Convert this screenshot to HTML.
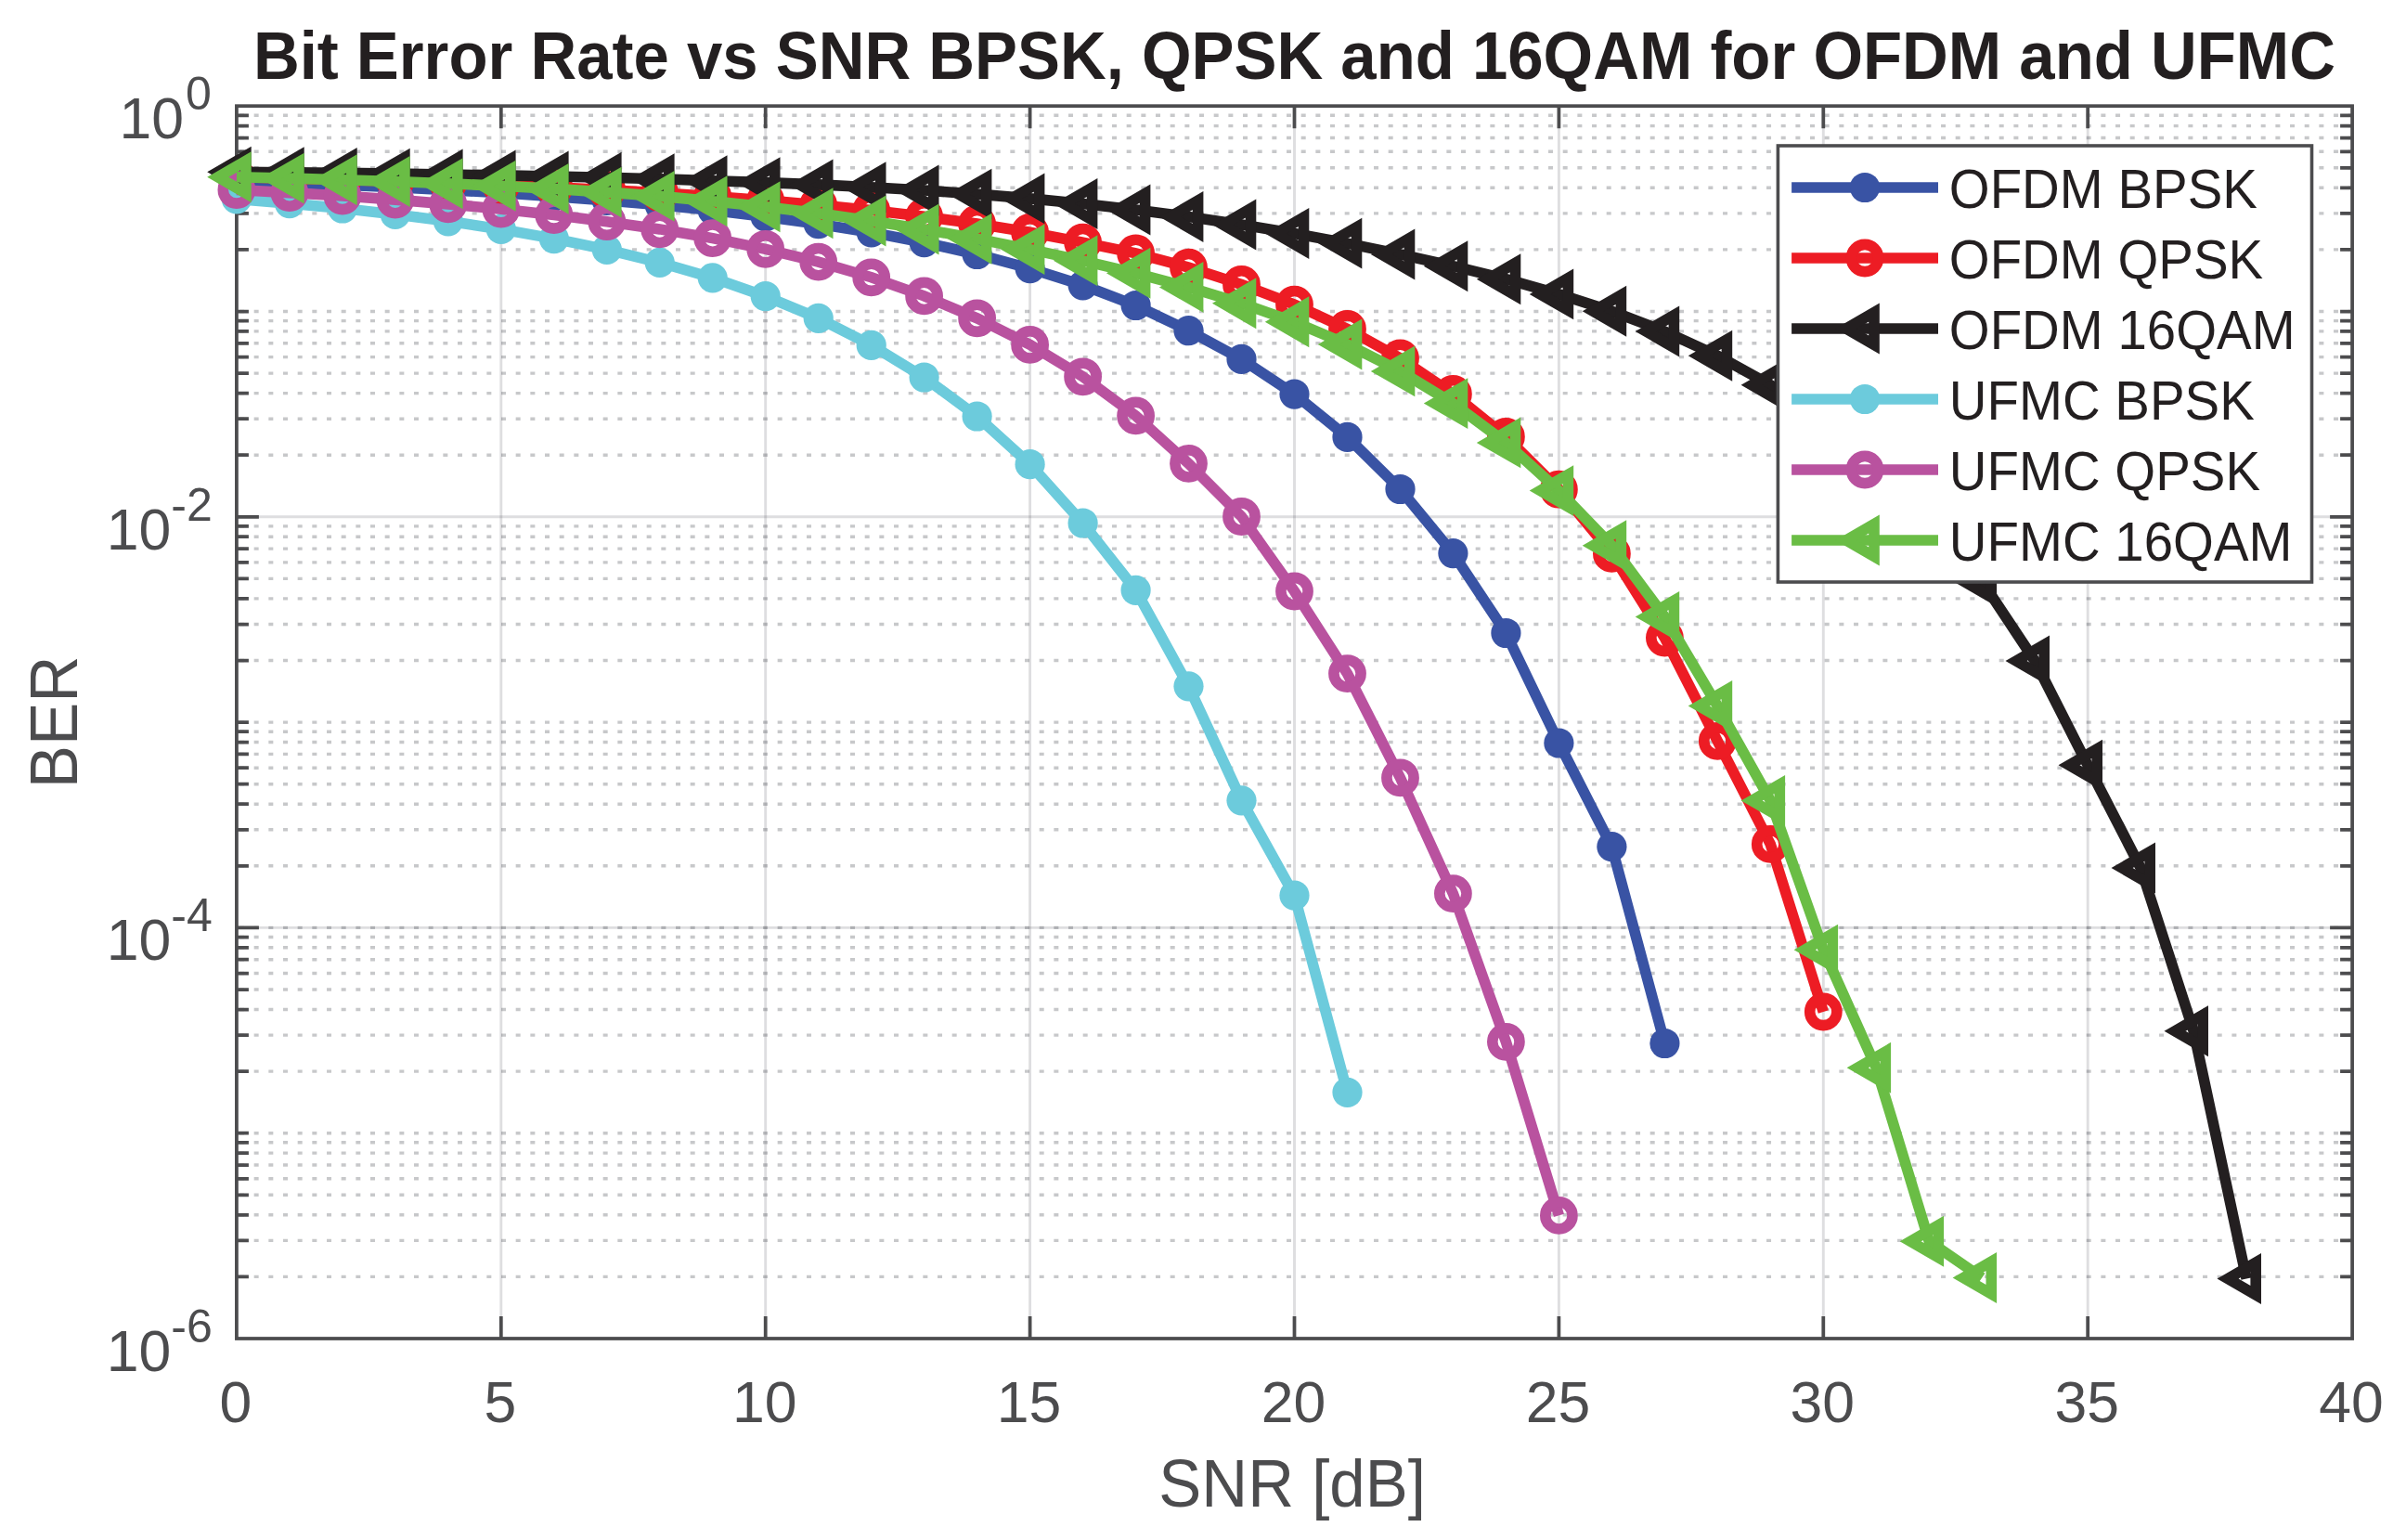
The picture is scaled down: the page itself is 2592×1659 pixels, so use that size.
<!DOCTYPE html>
<html><head><meta charset="utf-8"><title>BER vs SNR</title>
<style>html,body{margin:0;padding:0;background:#fff}svg{display:block}text{font-family:"Liberation Sans",sans-serif}</style></head>
<body>
<svg width="2592" height="1659" viewBox="0 0 2592 1659">
<rect width="2592" height="1659" fill="#fff"/>
<g stroke="#20242c" stroke-opacity="0.15" stroke-width="2.9" fill="none">
<line x1="539.8" y1="114.2" x2="539.8" y2="1442.0"/>
<line x1="824.7" y1="114.2" x2="824.7" y2="1442.0"/>
<line x1="1109.6" y1="114.2" x2="1109.6" y2="1442.0"/>
<line x1="1394.5" y1="114.2" x2="1394.5" y2="1442.0"/>
<line x1="1679.4" y1="114.2" x2="1679.4" y2="1442.0"/>
<line x1="1964.3" y1="114.2" x2="1964.3" y2="1442.0"/>
<line x1="2249.2" y1="114.2" x2="2249.2" y2="1442.0"/>
<line x1="254.9" y1="556.8" x2="2534.1" y2="556.8"/>
<line x1="254.9" y1="999.4" x2="2534.1" y2="999.4"/>
</g>
<g stroke="#20242c" stroke-opacity="0.25" stroke-width="3.4" stroke-dasharray="5 10.667" fill="none">
<line x1="258.0" y1="124.3" x2="2534.1" y2="124.3"/>
<line x1="258.0" y1="135.6" x2="2534.1" y2="135.6"/>
<line x1="258.0" y1="148.5" x2="2534.1" y2="148.5"/>
<line x1="258.0" y1="163.3" x2="2534.1" y2="163.3"/>
<line x1="258.0" y1="180.8" x2="2534.1" y2="180.8"/>
<line x1="258.0" y1="202.3" x2="2534.1" y2="202.3"/>
<line x1="258.0" y1="229.9" x2="2534.1" y2="229.9"/>
<line x1="258.0" y1="268.9" x2="2534.1" y2="268.9"/>
<line x1="258.0" y1="335.5" x2="2534.1" y2="335.5"/>
<line x1="258.0" y1="345.6" x2="2534.1" y2="345.6"/>
<line x1="258.0" y1="356.9" x2="2534.1" y2="356.9"/>
<line x1="258.0" y1="369.8" x2="2534.1" y2="369.8"/>
<line x1="258.0" y1="384.6" x2="2534.1" y2="384.6"/>
<line x1="258.0" y1="402.1" x2="2534.1" y2="402.1"/>
<line x1="258.0" y1="423.6" x2="2534.1" y2="423.6"/>
<line x1="258.0" y1="451.2" x2="2534.1" y2="451.2"/>
<line x1="258.0" y1="490.2" x2="2534.1" y2="490.2"/>
<line x1="258.0" y1="566.9" x2="2534.1" y2="566.9"/>
<line x1="258.0" y1="578.2" x2="2534.1" y2="578.2"/>
<line x1="258.0" y1="591.1" x2="2534.1" y2="591.1"/>
<line x1="258.0" y1="605.9" x2="2534.1" y2="605.9"/>
<line x1="258.0" y1="623.4" x2="2534.1" y2="623.4"/>
<line x1="258.0" y1="644.9" x2="2534.1" y2="644.9"/>
<line x1="258.0" y1="672.5" x2="2534.1" y2="672.5"/>
<line x1="258.0" y1="711.5" x2="2534.1" y2="711.5"/>
<line x1="258.0" y1="778.1" x2="2534.1" y2="778.1"/>
<line x1="258.0" y1="788.2" x2="2534.1" y2="788.2"/>
<line x1="258.0" y1="799.5" x2="2534.1" y2="799.5"/>
<line x1="258.0" y1="812.4" x2="2534.1" y2="812.4"/>
<line x1="258.0" y1="827.2" x2="2534.1" y2="827.2"/>
<line x1="258.0" y1="844.7" x2="2534.1" y2="844.7"/>
<line x1="258.0" y1="866.2" x2="2534.1" y2="866.2"/>
<line x1="258.0" y1="893.8" x2="2534.1" y2="893.8"/>
<line x1="258.0" y1="932.8" x2="2534.1" y2="932.8"/>
<line x1="258.0" y1="1009.5" x2="2534.1" y2="1009.5"/>
<line x1="258.0" y1="1020.8" x2="2534.1" y2="1020.8"/>
<line x1="258.0" y1="1033.7" x2="2534.1" y2="1033.7"/>
<line x1="258.0" y1="1048.5" x2="2534.1" y2="1048.5"/>
<line x1="258.0" y1="1066.0" x2="2534.1" y2="1066.0"/>
<line x1="258.0" y1="1087.5" x2="2534.1" y2="1087.5"/>
<line x1="258.0" y1="1115.1" x2="2534.1" y2="1115.1"/>
<line x1="258.0" y1="1154.1" x2="2534.1" y2="1154.1"/>
<line x1="258.0" y1="1220.7" x2="2534.1" y2="1220.7"/>
<line x1="258.0" y1="1230.8" x2="2534.1" y2="1230.8"/>
<line x1="258.0" y1="1242.1" x2="2534.1" y2="1242.1"/>
<line x1="258.0" y1="1255.0" x2="2534.1" y2="1255.0"/>
<line x1="258.0" y1="1269.8" x2="2534.1" y2="1269.8"/>
<line x1="258.0" y1="1287.3" x2="2534.1" y2="1287.3"/>
<line x1="258.0" y1="1308.8" x2="2534.1" y2="1308.8"/>
<line x1="258.0" y1="1336.4" x2="2534.1" y2="1336.4"/>
<line x1="258.0" y1="1375.4" x2="2534.1" y2="1375.4"/>
<line x1="258.0" y1="999.4" x2="2534.1" y2="999.4"/>
</g>
<g stroke="#4c4c4e" stroke-width="3.75" fill="none">
<rect x="254.9" y="114.2" width="2279.2" height="1327.8"/>
<path d="M539.8 1442.0v-24.0 M539.8 114.2v24.0"/>
<path d="M824.7 1442.0v-24.0 M824.7 114.2v24.0"/>
<path d="M1109.6 1442.0v-24.0 M1109.6 114.2v24.0"/>
<path d="M1394.5 1442.0v-24.0 M1394.5 114.2v24.0"/>
<path d="M1679.4 1442.0v-24.0 M1679.4 114.2v24.0"/>
<path d="M1964.3 1442.0v-24.0 M1964.3 114.2v24.0"/>
<path d="M2249.2 1442.0v-24.0 M2249.2 114.2v24.0"/>
<path d="M254.9 556.8h24.0 M2534.1 556.8h-24.0"/>
<path d="M254.9 999.4h24.0 M2534.1 999.4h-24.0"/>
<path d="M254.9 124.3h13.0 M2534.1 124.3h-13.0"/>
<path d="M254.9 135.6h13.0 M2534.1 135.6h-13.0"/>
<path d="M254.9 148.5h13.0 M2534.1 148.5h-13.0"/>
<path d="M254.9 163.3h13.0 M2534.1 163.3h-13.0"/>
<path d="M254.9 180.8h13.0 M2534.1 180.8h-13.0"/>
<path d="M254.9 202.3h13.0 M2534.1 202.3h-13.0"/>
<path d="M254.9 229.9h13.0 M2534.1 229.9h-13.0"/>
<path d="M254.9 268.9h13.0 M2534.1 268.9h-13.0"/>
<path d="M254.9 335.5h13.0 M2534.1 335.5h-13.0"/>
<path d="M254.9 345.6h13.0 M2534.1 345.6h-13.0"/>
<path d="M254.9 356.9h13.0 M2534.1 356.9h-13.0"/>
<path d="M254.9 369.8h13.0 M2534.1 369.8h-13.0"/>
<path d="M254.9 384.6h13.0 M2534.1 384.6h-13.0"/>
<path d="M254.9 402.1h13.0 M2534.1 402.1h-13.0"/>
<path d="M254.9 423.6h13.0 M2534.1 423.6h-13.0"/>
<path d="M254.9 451.2h13.0 M2534.1 451.2h-13.0"/>
<path d="M254.9 490.2h13.0 M2534.1 490.2h-13.0"/>
<path d="M254.9 566.9h13.0 M2534.1 566.9h-13.0"/>
<path d="M254.9 578.2h13.0 M2534.1 578.2h-13.0"/>
<path d="M254.9 591.1h13.0 M2534.1 591.1h-13.0"/>
<path d="M254.9 605.9h13.0 M2534.1 605.9h-13.0"/>
<path d="M254.9 623.4h13.0 M2534.1 623.4h-13.0"/>
<path d="M254.9 644.9h13.0 M2534.1 644.9h-13.0"/>
<path d="M254.9 672.5h13.0 M2534.1 672.5h-13.0"/>
<path d="M254.9 711.5h13.0 M2534.1 711.5h-13.0"/>
<path d="M254.9 778.1h13.0 M2534.1 778.1h-13.0"/>
<path d="M254.9 788.2h13.0 M2534.1 788.2h-13.0"/>
<path d="M254.9 799.5h13.0 M2534.1 799.5h-13.0"/>
<path d="M254.9 812.4h13.0 M2534.1 812.4h-13.0"/>
<path d="M254.9 827.2h13.0 M2534.1 827.2h-13.0"/>
<path d="M254.9 844.7h13.0 M2534.1 844.7h-13.0"/>
<path d="M254.9 866.2h13.0 M2534.1 866.2h-13.0"/>
<path d="M254.9 893.8h13.0 M2534.1 893.8h-13.0"/>
<path d="M254.9 932.8h13.0 M2534.1 932.8h-13.0"/>
<path d="M254.9 1009.5h13.0 M2534.1 1009.5h-13.0"/>
<path d="M254.9 1020.8h13.0 M2534.1 1020.8h-13.0"/>
<path d="M254.9 1033.7h13.0 M2534.1 1033.7h-13.0"/>
<path d="M254.9 1048.5h13.0 M2534.1 1048.5h-13.0"/>
<path d="M254.9 1066.0h13.0 M2534.1 1066.0h-13.0"/>
<path d="M254.9 1087.5h13.0 M2534.1 1087.5h-13.0"/>
<path d="M254.9 1115.1h13.0 M2534.1 1115.1h-13.0"/>
<path d="M254.9 1154.1h13.0 M2534.1 1154.1h-13.0"/>
<path d="M254.9 1220.7h13.0 M2534.1 1220.7h-13.0"/>
<path d="M254.9 1230.8h13.0 M2534.1 1230.8h-13.0"/>
<path d="M254.9 1242.1h13.0 M2534.1 1242.1h-13.0"/>
<path d="M254.9 1255.0h13.0 M2534.1 1255.0h-13.0"/>
<path d="M254.9 1269.8h13.0 M2534.1 1269.8h-13.0"/>
<path d="M254.9 1287.3h13.0 M2534.1 1287.3h-13.0"/>
<path d="M254.9 1308.8h13.0 M2534.1 1308.8h-13.0"/>
<path d="M254.9 1336.4h13.0 M2534.1 1336.4h-13.0"/>
<path d="M254.9 1375.4h13.0 M2534.1 1375.4h-13.0"/>
</g>
<g>
<polyline points="254.9,195.2 311.9,197.1 368.9,199.3 425.8,201.8 482.8,204.6 539.8,207.8 596.8,211.6 653.8,215.9 710.7,220.8 767.7,226.6 824.7,233.4 881.7,241.2 938.7,250.4 995.6,261.2 1052.6,274.0 1109.6,289.2 1166.6,307.3 1223.6,329.0 1280.5,356.2 1337.5,386.9 1394.5,424.6 1451.5,470.9 1508.5,527.0 1565.4,596.1 1622.4,682.0 1679.4,800.5 1736.4,912.2 1793.4,1124.0" fill="none" stroke="#3953a4" stroke-width="11.6" stroke-linejoin="miter" stroke-linecap="butt"/>
<circle cx="254.9" cy="195.2" r="16.1" fill="#3953a4"/>
<circle cx="311.9" cy="197.1" r="16.1" fill="#3953a4"/>
<circle cx="368.9" cy="199.3" r="16.1" fill="#3953a4"/>
<circle cx="425.8" cy="201.8" r="16.1" fill="#3953a4"/>
<circle cx="482.8" cy="204.6" r="16.1" fill="#3953a4"/>
<circle cx="539.8" cy="207.8" r="16.1" fill="#3953a4"/>
<circle cx="596.8" cy="211.6" r="16.1" fill="#3953a4"/>
<circle cx="653.8" cy="215.9" r="16.1" fill="#3953a4"/>
<circle cx="710.7" cy="220.8" r="16.1" fill="#3953a4"/>
<circle cx="767.7" cy="226.6" r="16.1" fill="#3953a4"/>
<circle cx="824.7" cy="233.4" r="16.1" fill="#3953a4"/>
<circle cx="881.7" cy="241.2" r="16.1" fill="#3953a4"/>
<circle cx="938.7" cy="250.4" r="16.1" fill="#3953a4"/>
<circle cx="995.6" cy="261.2" r="16.1" fill="#3953a4"/>
<circle cx="1052.6" cy="274.0" r="16.1" fill="#3953a4"/>
<circle cx="1109.6" cy="289.2" r="16.1" fill="#3953a4"/>
<circle cx="1166.6" cy="307.3" r="16.1" fill="#3953a4"/>
<circle cx="1223.6" cy="329.0" r="16.1" fill="#3953a4"/>
<circle cx="1280.5" cy="356.2" r="16.1" fill="#3953a4"/>
<circle cx="1337.5" cy="386.9" r="16.1" fill="#3953a4"/>
<circle cx="1394.5" cy="424.6" r="16.1" fill="#3953a4"/>
<circle cx="1451.5" cy="470.9" r="16.1" fill="#3953a4"/>
<circle cx="1508.5" cy="527.0" r="16.1" fill="#3953a4"/>
<circle cx="1565.4" cy="596.1" r="16.1" fill="#3953a4"/>
<circle cx="1622.4" cy="682.0" r="16.1" fill="#3953a4"/>
<circle cx="1679.4" cy="800.5" r="16.1" fill="#3953a4"/>
<circle cx="1736.4" cy="912.2" r="16.1" fill="#3953a4"/>
<circle cx="1793.4" cy="1124.0" r="16.1" fill="#3953a4"/>
</g>
<g>
<polyline points="254.9,190.8 311.9,192.1 368.9,193.6 425.8,195.2 482.8,197.1 539.8,199.3 596.8,201.7 653.8,204.6 710.7,207.8 767.7,211.5 824.7,215.8 881.7,220.8 938.7,226.6 995.6,233.3 1052.6,241.1 1109.6,250.3 1166.6,261.1 1223.6,272.8 1280.5,288.1 1337.5,306.4 1394.5,328.1 1451.5,354.5 1508.5,385.9 1565.4,424.4 1622.4,470.5 1679.4,527.2 1736.4,596.4 1793.4,687.1 1850.3,798.3 1907.3,909.4 1964.3,1090.0" fill="none" stroke="#ed1c24" stroke-width="11.6" stroke-linejoin="miter" stroke-linecap="butt"/>
<circle cx="254.9" cy="190.8" r="14.6" fill="none" stroke="#ed1c24" stroke-width="11.6"/>
<circle cx="311.9" cy="192.1" r="14.6" fill="none" stroke="#ed1c24" stroke-width="11.6"/>
<circle cx="368.9" cy="193.6" r="14.6" fill="none" stroke="#ed1c24" stroke-width="11.6"/>
<circle cx="425.8" cy="195.2" r="14.6" fill="none" stroke="#ed1c24" stroke-width="11.6"/>
<circle cx="482.8" cy="197.1" r="14.6" fill="none" stroke="#ed1c24" stroke-width="11.6"/>
<circle cx="539.8" cy="199.3" r="14.6" fill="none" stroke="#ed1c24" stroke-width="11.6"/>
<circle cx="596.8" cy="201.7" r="14.6" fill="none" stroke="#ed1c24" stroke-width="11.6"/>
<circle cx="653.8" cy="204.6" r="14.6" fill="none" stroke="#ed1c24" stroke-width="11.6"/>
<circle cx="710.7" cy="207.8" r="14.6" fill="none" stroke="#ed1c24" stroke-width="11.6"/>
<circle cx="767.7" cy="211.5" r="14.6" fill="none" stroke="#ed1c24" stroke-width="11.6"/>
<circle cx="824.7" cy="215.8" r="14.6" fill="none" stroke="#ed1c24" stroke-width="11.6"/>
<circle cx="881.7" cy="220.8" r="14.6" fill="none" stroke="#ed1c24" stroke-width="11.6"/>
<circle cx="938.7" cy="226.6" r="14.6" fill="none" stroke="#ed1c24" stroke-width="11.6"/>
<circle cx="995.6" cy="233.3" r="14.6" fill="none" stroke="#ed1c24" stroke-width="11.6"/>
<circle cx="1052.6" cy="241.1" r="14.6" fill="none" stroke="#ed1c24" stroke-width="11.6"/>
<circle cx="1109.6" cy="250.3" r="14.6" fill="none" stroke="#ed1c24" stroke-width="11.6"/>
<circle cx="1166.6" cy="261.1" r="14.6" fill="none" stroke="#ed1c24" stroke-width="11.6"/>
<circle cx="1223.6" cy="272.8" r="14.6" fill="none" stroke="#ed1c24" stroke-width="11.6"/>
<circle cx="1280.5" cy="288.1" r="14.6" fill="none" stroke="#ed1c24" stroke-width="11.6"/>
<circle cx="1337.5" cy="306.4" r="14.6" fill="none" stroke="#ed1c24" stroke-width="11.6"/>
<circle cx="1394.5" cy="328.1" r="14.6" fill="none" stroke="#ed1c24" stroke-width="11.6"/>
<circle cx="1451.5" cy="354.5" r="14.6" fill="none" stroke="#ed1c24" stroke-width="11.6"/>
<circle cx="1508.5" cy="385.9" r="14.6" fill="none" stroke="#ed1c24" stroke-width="11.6"/>
<circle cx="1565.4" cy="424.4" r="14.6" fill="none" stroke="#ed1c24" stroke-width="11.6"/>
<circle cx="1622.4" cy="470.5" r="14.6" fill="none" stroke="#ed1c24" stroke-width="11.6"/>
<circle cx="1679.4" cy="527.2" r="14.6" fill="none" stroke="#ed1c24" stroke-width="11.6"/>
<circle cx="1736.4" cy="596.4" r="14.6" fill="none" stroke="#ed1c24" stroke-width="11.6"/>
<circle cx="1793.4" cy="687.1" r="14.6" fill="none" stroke="#ed1c24" stroke-width="11.6"/>
<circle cx="1850.3" cy="798.3" r="14.6" fill="none" stroke="#ed1c24" stroke-width="11.6"/>
<circle cx="1907.3" cy="909.4" r="14.6" fill="none" stroke="#ed1c24" stroke-width="11.6"/>
<circle cx="1964.3" cy="1090.0" r="14.6" fill="none" stroke="#ed1c24" stroke-width="11.6"/>
</g>
<g>
<polyline points="254.9,185.2 311.9,185.8 368.9,186.4 425.8,187.1 482.8,188.0 539.8,188.9 596.8,190.0 653.8,191.3 710.7,192.8 767.7,194.7 824.7,196.6 881.7,198.9 938.7,201.7 995.6,205.0 1052.6,209.1 1109.6,213.9 1166.6,219.5 1223.6,226.0 1280.5,233.5 1337.5,242.0 1394.5,251.5 1451.5,262.1 1508.5,274.0 1565.4,286.7 1622.4,300.7 1679.4,316.9 1736.4,335.3 1793.4,357.0 1850.3,383.2 1907.3,414.8 1964.3,452.9 2021.3,499.5 2078.3,556.3 2135.2,626.1 2192.2,712.0 2249.2,824.3 2306.2,935.0 2363.2,1110.8 2420.1,1377.5" fill="none" stroke="#231f20" stroke-width="11.6" stroke-linejoin="miter" stroke-linecap="butt"/>
<path d="M234.8 185.2L264.9 167.8L264.9 202.6Z" fill="none" stroke="#231f20" stroke-width="11.6" stroke-linejoin="miter" stroke-miterlimit="10"/>
<path d="M291.8 185.8L321.9 168.4L321.9 203.2Z" fill="none" stroke="#231f20" stroke-width="11.6" stroke-linejoin="miter" stroke-miterlimit="10"/>
<path d="M348.8 186.4L378.9 169.0L378.9 203.8Z" fill="none" stroke="#231f20" stroke-width="11.6" stroke-linejoin="miter" stroke-miterlimit="10"/>
<path d="M405.8 187.1L435.9 169.7L435.9 204.5Z" fill="none" stroke="#231f20" stroke-width="11.6" stroke-linejoin="miter" stroke-miterlimit="10"/>
<path d="M462.8 188.0L492.8 170.6L492.8 205.4Z" fill="none" stroke="#231f20" stroke-width="11.6" stroke-linejoin="miter" stroke-miterlimit="10"/>
<path d="M519.7 188.9L549.8 171.5L549.8 206.3Z" fill="none" stroke="#231f20" stroke-width="11.6" stroke-linejoin="miter" stroke-miterlimit="10"/>
<path d="M576.7 190.0L606.8 172.6L606.8 207.4Z" fill="none" stroke="#231f20" stroke-width="11.6" stroke-linejoin="miter" stroke-miterlimit="10"/>
<path d="M633.7 191.3L663.8 173.9L663.8 208.7Z" fill="none" stroke="#231f20" stroke-width="11.6" stroke-linejoin="miter" stroke-miterlimit="10"/>
<path d="M690.7 192.8L720.8 175.4L720.8 210.2Z" fill="none" stroke="#231f20" stroke-width="11.6" stroke-linejoin="miter" stroke-miterlimit="10"/>
<path d="M747.6 194.7L777.7 177.3L777.7 212.1Z" fill="none" stroke="#231f20" stroke-width="11.6" stroke-linejoin="miter" stroke-miterlimit="10"/>
<path d="M804.6 196.6L834.7 179.2L834.7 214.0Z" fill="none" stroke="#231f20" stroke-width="11.6" stroke-linejoin="miter" stroke-miterlimit="10"/>
<path d="M861.6 198.9L891.7 181.5L891.7 216.3Z" fill="none" stroke="#231f20" stroke-width="11.6" stroke-linejoin="miter" stroke-miterlimit="10"/>
<path d="M918.6 201.7L948.7 184.3L948.7 219.1Z" fill="none" stroke="#231f20" stroke-width="11.6" stroke-linejoin="miter" stroke-miterlimit="10"/>
<path d="M975.6 205.0L1005.7 187.6L1005.7 222.4Z" fill="none" stroke="#231f20" stroke-width="11.6" stroke-linejoin="miter" stroke-miterlimit="10"/>
<path d="M1032.5 209.1L1062.6 191.7L1062.6 226.5Z" fill="none" stroke="#231f20" stroke-width="11.6" stroke-linejoin="miter" stroke-miterlimit="10"/>
<path d="M1089.5 213.9L1119.6 196.5L1119.6 231.3Z" fill="none" stroke="#231f20" stroke-width="11.6" stroke-linejoin="miter" stroke-miterlimit="10"/>
<path d="M1146.5 219.5L1176.6 202.1L1176.6 236.9Z" fill="none" stroke="#231f20" stroke-width="11.6" stroke-linejoin="miter" stroke-miterlimit="10"/>
<path d="M1203.5 226.0L1233.6 208.6L1233.6 243.4Z" fill="none" stroke="#231f20" stroke-width="11.6" stroke-linejoin="miter" stroke-miterlimit="10"/>
<path d="M1260.5 233.5L1290.6 216.1L1290.6 250.9Z" fill="none" stroke="#231f20" stroke-width="11.6" stroke-linejoin="miter" stroke-miterlimit="10"/>
<path d="M1317.5 242.0L1347.5 224.6L1347.5 259.4Z" fill="none" stroke="#231f20" stroke-width="11.6" stroke-linejoin="miter" stroke-miterlimit="10"/>
<path d="M1374.4 251.5L1404.5 234.1L1404.5 268.9Z" fill="none" stroke="#231f20" stroke-width="11.6" stroke-linejoin="miter" stroke-miterlimit="10"/>
<path d="M1431.4 262.1L1461.5 244.7L1461.5 279.5Z" fill="none" stroke="#231f20" stroke-width="11.6" stroke-linejoin="miter" stroke-miterlimit="10"/>
<path d="M1488.4 274.0L1518.5 256.6L1518.5 291.4Z" fill="none" stroke="#231f20" stroke-width="11.6" stroke-linejoin="miter" stroke-miterlimit="10"/>
<path d="M1545.4 286.7L1575.5 269.3L1575.5 304.1Z" fill="none" stroke="#231f20" stroke-width="11.6" stroke-linejoin="miter" stroke-miterlimit="10"/>
<path d="M1602.4 300.7L1632.5 283.3L1632.5 318.1Z" fill="none" stroke="#231f20" stroke-width="11.6" stroke-linejoin="miter" stroke-miterlimit="10"/>
<path d="M1659.3 316.9L1689.4 299.5L1689.4 334.3Z" fill="none" stroke="#231f20" stroke-width="11.6" stroke-linejoin="miter" stroke-miterlimit="10"/>
<path d="M1716.3 335.3L1746.4 317.9L1746.4 352.7Z" fill="none" stroke="#231f20" stroke-width="11.6" stroke-linejoin="miter" stroke-miterlimit="10"/>
<path d="M1773.3 357.0L1803.4 339.6L1803.4 374.4Z" fill="none" stroke="#231f20" stroke-width="11.6" stroke-linejoin="miter" stroke-miterlimit="10"/>
<path d="M1830.3 383.2L1860.4 365.8L1860.4 400.6Z" fill="none" stroke="#231f20" stroke-width="11.6" stroke-linejoin="miter" stroke-miterlimit="10"/>
<path d="M1887.2 414.8L1917.3 397.4L1917.3 432.2Z" fill="none" stroke="#231f20" stroke-width="11.6" stroke-linejoin="miter" stroke-miterlimit="10"/>
<path d="M1944.2 452.9L1974.3 435.5L1974.3 470.3Z" fill="none" stroke="#231f20" stroke-width="11.6" stroke-linejoin="miter" stroke-miterlimit="10"/>
<path d="M2001.2 499.5L2031.3 482.1L2031.3 516.9Z" fill="none" stroke="#231f20" stroke-width="11.6" stroke-linejoin="miter" stroke-miterlimit="10"/>
<path d="M2058.2 556.3L2088.3 538.9L2088.3 573.7Z" fill="none" stroke="#231f20" stroke-width="11.6" stroke-linejoin="miter" stroke-miterlimit="10"/>
<path d="M2115.2 626.1L2145.3 608.7L2145.3 643.5Z" fill="none" stroke="#231f20" stroke-width="11.6" stroke-linejoin="miter" stroke-miterlimit="10"/>
<path d="M2172.1 712.0L2202.2 694.6L2202.2 729.4Z" fill="none" stroke="#231f20" stroke-width="11.6" stroke-linejoin="miter" stroke-miterlimit="10"/>
<path d="M2229.1 824.3L2259.2 806.9L2259.2 841.7Z" fill="none" stroke="#231f20" stroke-width="11.6" stroke-linejoin="miter" stroke-miterlimit="10"/>
<path d="M2286.1 935.0L2316.2 917.6L2316.2 952.4Z" fill="none" stroke="#231f20" stroke-width="11.6" stroke-linejoin="miter" stroke-miterlimit="10"/>
<path d="M2343.1 1110.8L2373.2 1093.4L2373.2 1128.2Z" fill="none" stroke="#231f20" stroke-width="11.6" stroke-linejoin="miter" stroke-miterlimit="10"/>
<path d="M2400.1 1377.5L2430.2 1360.1L2430.2 1394.9Z" fill="none" stroke="#231f20" stroke-width="11.6" stroke-linejoin="miter" stroke-miterlimit="10"/>
</g>
<g>
<polyline points="254.9,214.4 311.9,219.1 368.9,224.5 425.8,230.9 482.8,238.3 539.8,246.9 596.8,257.1 653.8,268.9 710.7,282.8 767.7,299.3 824.7,319.2 881.7,342.8 938.7,371.9 995.6,406.5 1052.6,448.5 1109.6,500.2 1166.6,563.5 1223.6,635.8 1280.5,739.3 1337.5,862.3 1394.5,964.6 1451.5,1176.8" fill="none" stroke="#6ccbdc" stroke-width="11.6" stroke-linejoin="miter" stroke-linecap="butt"/>
<circle cx="254.9" cy="214.4" r="16.1" fill="#6ccbdc"/>
<circle cx="311.9" cy="219.1" r="16.1" fill="#6ccbdc"/>
<circle cx="368.9" cy="224.5" r="16.1" fill="#6ccbdc"/>
<circle cx="425.8" cy="230.9" r="16.1" fill="#6ccbdc"/>
<circle cx="482.8" cy="238.3" r="16.1" fill="#6ccbdc"/>
<circle cx="539.8" cy="246.9" r="16.1" fill="#6ccbdc"/>
<circle cx="596.8" cy="257.1" r="16.1" fill="#6ccbdc"/>
<circle cx="653.8" cy="268.9" r="16.1" fill="#6ccbdc"/>
<circle cx="710.7" cy="282.8" r="16.1" fill="#6ccbdc"/>
<circle cx="767.7" cy="299.3" r="16.1" fill="#6ccbdc"/>
<circle cx="824.7" cy="319.2" r="16.1" fill="#6ccbdc"/>
<circle cx="881.7" cy="342.8" r="16.1" fill="#6ccbdc"/>
<circle cx="938.7" cy="371.9" r="16.1" fill="#6ccbdc"/>
<circle cx="995.6" cy="406.5" r="16.1" fill="#6ccbdc"/>
<circle cx="1052.6" cy="448.5" r="16.1" fill="#6ccbdc"/>
<circle cx="1109.6" cy="500.2" r="16.1" fill="#6ccbdc"/>
<circle cx="1166.6" cy="563.5" r="16.1" fill="#6ccbdc"/>
<circle cx="1223.6" cy="635.8" r="16.1" fill="#6ccbdc"/>
<circle cx="1280.5" cy="739.3" r="16.1" fill="#6ccbdc"/>
<circle cx="1337.5" cy="862.3" r="16.1" fill="#6ccbdc"/>
<circle cx="1394.5" cy="964.6" r="16.1" fill="#6ccbdc"/>
<circle cx="1451.5" cy="1176.8" r="16.1" fill="#6ccbdc"/>
</g>
<g>
<polyline points="254.9,204.5 311.9,207.6 368.9,211.0 425.8,215.1 482.8,219.9 539.8,225.2 596.8,231.5 653.8,238.7 710.7,246.9 767.7,256.6 824.7,268.3 881.7,282.1 938.7,298.8 995.6,318.9 1052.6,342.8 1109.6,371.4 1166.6,405.8 1223.6,447.9 1280.5,499.4 1337.5,556.5 1394.5,637.0 1451.5,725.6 1508.5,837.9 1565.4,962.6 1622.4,1122.3 1679.4,1309.4" fill="none" stroke="#b9529f" stroke-width="11.6" stroke-linejoin="miter" stroke-linecap="butt"/>
<circle cx="254.9" cy="204.5" r="14.6" fill="none" stroke="#b9529f" stroke-width="11.6"/>
<circle cx="311.9" cy="207.6" r="14.6" fill="none" stroke="#b9529f" stroke-width="11.6"/>
<circle cx="368.9" cy="211.0" r="14.6" fill="none" stroke="#b9529f" stroke-width="11.6"/>
<circle cx="425.8" cy="215.1" r="14.6" fill="none" stroke="#b9529f" stroke-width="11.6"/>
<circle cx="482.8" cy="219.9" r="14.6" fill="none" stroke="#b9529f" stroke-width="11.6"/>
<circle cx="539.8" cy="225.2" r="14.6" fill="none" stroke="#b9529f" stroke-width="11.6"/>
<circle cx="596.8" cy="231.5" r="14.6" fill="none" stroke="#b9529f" stroke-width="11.6"/>
<circle cx="653.8" cy="238.7" r="14.6" fill="none" stroke="#b9529f" stroke-width="11.6"/>
<circle cx="710.7" cy="246.9" r="14.6" fill="none" stroke="#b9529f" stroke-width="11.6"/>
<circle cx="767.7" cy="256.6" r="14.6" fill="none" stroke="#b9529f" stroke-width="11.6"/>
<circle cx="824.7" cy="268.3" r="14.6" fill="none" stroke="#b9529f" stroke-width="11.6"/>
<circle cx="881.7" cy="282.1" r="14.6" fill="none" stroke="#b9529f" stroke-width="11.6"/>
<circle cx="938.7" cy="298.8" r="14.6" fill="none" stroke="#b9529f" stroke-width="11.6"/>
<circle cx="995.6" cy="318.9" r="14.6" fill="none" stroke="#b9529f" stroke-width="11.6"/>
<circle cx="1052.6" cy="342.8" r="14.6" fill="none" stroke="#b9529f" stroke-width="11.6"/>
<circle cx="1109.6" cy="371.4" r="14.6" fill="none" stroke="#b9529f" stroke-width="11.6"/>
<circle cx="1166.6" cy="405.8" r="14.6" fill="none" stroke="#b9529f" stroke-width="11.6"/>
<circle cx="1223.6" cy="447.9" r="14.6" fill="none" stroke="#b9529f" stroke-width="11.6"/>
<circle cx="1280.5" cy="499.4" r="14.6" fill="none" stroke="#b9529f" stroke-width="11.6"/>
<circle cx="1337.5" cy="556.5" r="14.6" fill="none" stroke="#b9529f" stroke-width="11.6"/>
<circle cx="1394.5" cy="637.0" r="14.6" fill="none" stroke="#b9529f" stroke-width="11.6"/>
<circle cx="1451.5" cy="725.6" r="14.6" fill="none" stroke="#b9529f" stroke-width="11.6"/>
<circle cx="1508.5" cy="837.9" r="14.6" fill="none" stroke="#b9529f" stroke-width="11.6"/>
<circle cx="1565.4" cy="962.6" r="14.6" fill="none" stroke="#b9529f" stroke-width="11.6"/>
<circle cx="1622.4" cy="1122.3" r="14.6" fill="none" stroke="#b9529f" stroke-width="11.6"/>
<circle cx="1679.4" cy="1309.4" r="14.6" fill="none" stroke="#b9529f" stroke-width="11.6"/>
</g>
<g>
<polyline points="254.9,190.7 311.9,192.1 368.9,193.7 425.8,195.5 482.8,197.7 539.8,200.3 596.8,203.4 653.8,207.1 710.7,211.4 767.7,216.8 824.7,222.7 881.7,229.8 938.7,238.0 995.6,247.0 1052.6,257.3 1109.6,268.6 1166.6,280.8 1223.6,294.3 1280.5,309.4 1337.5,326.8 1394.5,346.8 1451.5,371.0 1508.5,399.9 1565.4,434.6 1622.4,476.9 1679.4,528.6 1736.4,587.7 1793.4,664.5 1850.3,760.5 1907.3,862.5 1964.3,1023.2 2021.3,1150.3 2078.3,1337.3 2135.2,1376.5" fill="none" stroke="#6abd45" stroke-width="11.6" stroke-linejoin="miter" stroke-linecap="butt"/>
<path d="M234.8 190.7L264.9 173.3L264.9 208.1Z" fill="none" stroke="#6abd45" stroke-width="11.6" stroke-linejoin="miter" stroke-miterlimit="10"/>
<path d="M291.8 192.1L321.9 174.7L321.9 209.5Z" fill="none" stroke="#6abd45" stroke-width="11.6" stroke-linejoin="miter" stroke-miterlimit="10"/>
<path d="M348.8 193.7L378.9 176.3L378.9 211.1Z" fill="none" stroke="#6abd45" stroke-width="11.6" stroke-linejoin="miter" stroke-miterlimit="10"/>
<path d="M405.8 195.5L435.9 178.1L435.9 212.9Z" fill="none" stroke="#6abd45" stroke-width="11.6" stroke-linejoin="miter" stroke-miterlimit="10"/>
<path d="M462.8 197.7L492.8 180.3L492.8 215.1Z" fill="none" stroke="#6abd45" stroke-width="11.6" stroke-linejoin="miter" stroke-miterlimit="10"/>
<path d="M519.7 200.3L549.8 182.9L549.8 217.7Z" fill="none" stroke="#6abd45" stroke-width="11.6" stroke-linejoin="miter" stroke-miterlimit="10"/>
<path d="M576.7 203.4L606.8 186.0L606.8 220.8Z" fill="none" stroke="#6abd45" stroke-width="11.6" stroke-linejoin="miter" stroke-miterlimit="10"/>
<path d="M633.7 207.1L663.8 189.7L663.8 224.5Z" fill="none" stroke="#6abd45" stroke-width="11.6" stroke-linejoin="miter" stroke-miterlimit="10"/>
<path d="M690.7 211.4L720.8 194.0L720.8 228.8Z" fill="none" stroke="#6abd45" stroke-width="11.6" stroke-linejoin="miter" stroke-miterlimit="10"/>
<path d="M747.6 216.8L777.7 199.4L777.7 234.2Z" fill="none" stroke="#6abd45" stroke-width="11.6" stroke-linejoin="miter" stroke-miterlimit="10"/>
<path d="M804.6 222.7L834.7 205.3L834.7 240.1Z" fill="none" stroke="#6abd45" stroke-width="11.6" stroke-linejoin="miter" stroke-miterlimit="10"/>
<path d="M861.6 229.8L891.7 212.4L891.7 247.2Z" fill="none" stroke="#6abd45" stroke-width="11.6" stroke-linejoin="miter" stroke-miterlimit="10"/>
<path d="M918.6 238.0L948.7 220.6L948.7 255.4Z" fill="none" stroke="#6abd45" stroke-width="11.6" stroke-linejoin="miter" stroke-miterlimit="10"/>
<path d="M975.6 247.0L1005.7 229.6L1005.7 264.4Z" fill="none" stroke="#6abd45" stroke-width="11.6" stroke-linejoin="miter" stroke-miterlimit="10"/>
<path d="M1032.5 257.3L1062.6 239.9L1062.6 274.7Z" fill="none" stroke="#6abd45" stroke-width="11.6" stroke-linejoin="miter" stroke-miterlimit="10"/>
<path d="M1089.5 268.6L1119.6 251.2L1119.6 286.0Z" fill="none" stroke="#6abd45" stroke-width="11.6" stroke-linejoin="miter" stroke-miterlimit="10"/>
<path d="M1146.5 280.8L1176.6 263.4L1176.6 298.2Z" fill="none" stroke="#6abd45" stroke-width="11.6" stroke-linejoin="miter" stroke-miterlimit="10"/>
<path d="M1203.5 294.3L1233.6 276.9L1233.6 311.7Z" fill="none" stroke="#6abd45" stroke-width="11.6" stroke-linejoin="miter" stroke-miterlimit="10"/>
<path d="M1260.5 309.4L1290.6 292.0L1290.6 326.8Z" fill="none" stroke="#6abd45" stroke-width="11.6" stroke-linejoin="miter" stroke-miterlimit="10"/>
<path d="M1317.5 326.8L1347.5 309.4L1347.5 344.2Z" fill="none" stroke="#6abd45" stroke-width="11.6" stroke-linejoin="miter" stroke-miterlimit="10"/>
<path d="M1374.4 346.8L1404.5 329.4L1404.5 364.2Z" fill="none" stroke="#6abd45" stroke-width="11.6" stroke-linejoin="miter" stroke-miterlimit="10"/>
<path d="M1431.4 371.0L1461.5 353.6L1461.5 388.4Z" fill="none" stroke="#6abd45" stroke-width="11.6" stroke-linejoin="miter" stroke-miterlimit="10"/>
<path d="M1488.4 399.9L1518.5 382.5L1518.5 417.3Z" fill="none" stroke="#6abd45" stroke-width="11.6" stroke-linejoin="miter" stroke-miterlimit="10"/>
<path d="M1545.4 434.6L1575.5 417.2L1575.5 452.0Z" fill="none" stroke="#6abd45" stroke-width="11.6" stroke-linejoin="miter" stroke-miterlimit="10"/>
<path d="M1602.4 476.9L1632.5 459.5L1632.5 494.3Z" fill="none" stroke="#6abd45" stroke-width="11.6" stroke-linejoin="miter" stroke-miterlimit="10"/>
<path d="M1659.3 528.6L1689.4 511.2L1689.4 546.0Z" fill="none" stroke="#6abd45" stroke-width="11.6" stroke-linejoin="miter" stroke-miterlimit="10"/>
<path d="M1716.3 587.7L1746.4 570.3L1746.4 605.1Z" fill="none" stroke="#6abd45" stroke-width="11.6" stroke-linejoin="miter" stroke-miterlimit="10"/>
<path d="M1773.3 664.5L1803.4 647.1L1803.4 681.9Z" fill="none" stroke="#6abd45" stroke-width="11.6" stroke-linejoin="miter" stroke-miterlimit="10"/>
<path d="M1830.3 760.5L1860.4 743.1L1860.4 777.9Z" fill="none" stroke="#6abd45" stroke-width="11.6" stroke-linejoin="miter" stroke-miterlimit="10"/>
<path d="M1887.2 862.5L1917.3 845.1L1917.3 879.9Z" fill="none" stroke="#6abd45" stroke-width="11.6" stroke-linejoin="miter" stroke-miterlimit="10"/>
<path d="M1944.2 1023.2L1974.3 1005.8L1974.3 1040.6Z" fill="none" stroke="#6abd45" stroke-width="11.6" stroke-linejoin="miter" stroke-miterlimit="10"/>
<path d="M2001.2 1150.3L2031.3 1132.9L2031.3 1167.7Z" fill="none" stroke="#6abd45" stroke-width="11.6" stroke-linejoin="miter" stroke-miterlimit="10"/>
<path d="M2058.2 1337.3L2088.3 1319.9L2088.3 1354.7Z" fill="none" stroke="#6abd45" stroke-width="11.6" stroke-linejoin="miter" stroke-miterlimit="10"/>
<path d="M2115.2 1376.5L2145.3 1359.1L2145.3 1393.9Z" fill="none" stroke="#6abd45" stroke-width="11.6" stroke-linejoin="miter" stroke-miterlimit="10"/>
</g>
<rect x="1915.4" y="157.0" width="575.1" height="470" fill="#fff" stroke="#4c4c4e" stroke-width="3.6"/>
<line x1="1930.1" y1="202.0" x2="2088" y2="202.0" stroke="#3953a4" stroke-width="11.6"/>
<circle cx="2009.0" cy="202.0" r="16.1" fill="#3953a4"/>
<text transform="translate(2099.8 223.7) scale(1 1.045)" font-size="56.4" fill="#231f20">OFDM BPSK</text>
<line x1="1930.1" y1="278.0" x2="2088" y2="278.0" stroke="#ed1c24" stroke-width="11.6"/>
<circle cx="2009.0" cy="278.0" r="14.6" fill="none" stroke="#ed1c24" stroke-width="11.6"/>
<text transform="translate(2099.8 299.7) scale(1 1.045)" font-size="56.4" fill="#231f20">OFDM QPSK</text>
<line x1="1930.1" y1="354.0" x2="2088" y2="354.0" stroke="#231f20" stroke-width="11.6"/>
<path d="M1988.9 354.0L2019.0 336.6L2019.0 371.4Z" fill="none" stroke="#231f20" stroke-width="11.6" stroke-linejoin="miter" stroke-miterlimit="10"/>
<text transform="translate(2099.8 375.7) scale(1 1.045)" font-size="56.4" fill="#231f20">OFDM 16QAM</text>
<line x1="1930.1" y1="430.0" x2="2088" y2="430.0" stroke="#6ccbdc" stroke-width="11.6"/>
<circle cx="2009.0" cy="430.0" r="16.1" fill="#6ccbdc"/>
<text transform="translate(2099.8 451.7) scale(1 1.045)" font-size="56.4" fill="#231f20">UFMC BPSK</text>
<line x1="1930.1" y1="506.0" x2="2088" y2="506.0" stroke="#b9529f" stroke-width="11.6"/>
<circle cx="2009.0" cy="506.0" r="14.6" fill="none" stroke="#b9529f" stroke-width="11.6"/>
<text transform="translate(2099.8 527.7) scale(1 1.045)" font-size="56.4" fill="#231f20">UFMC QPSK</text>
<line x1="1930.1" y1="582.0" x2="2088" y2="582.0" stroke="#6abd45" stroke-width="11.6"/>
<path d="M1988.9 582.0L2019.0 564.6L2019.0 599.4Z" fill="none" stroke="#6abd45" stroke-width="11.6" stroke-linejoin="miter" stroke-miterlimit="10"/>
<text transform="translate(2099.8 603.7) scale(1 1.045)" font-size="56.4" fill="#231f20">UFMC 16QAM</text>
<text transform="translate(1394.4 84.9) scale(1 1.04)" font-size="68.9" font-weight="bold" fill="#231f20" text-anchor="middle">Bit Error Rate vs SNR BPSK, QPSK and 16QAM for OFDM and UFMC</text>
<text x="253.9" y="1531.6" font-size="62.5" fill="#4c4c4e" text-anchor="middle">0</text>
<text x="538.8" y="1531.6" font-size="62.5" fill="#4c4c4e" text-anchor="middle">5</text>
<text x="823.7" y="1531.6" font-size="62.5" fill="#4c4c4e" text-anchor="middle">10</text>
<text x="1108.6" y="1531.6" font-size="62.5" fill="#4c4c4e" text-anchor="middle">15</text>
<text x="1393.5" y="1531.6" font-size="62.5" fill="#4c4c4e" text-anchor="middle">20</text>
<text x="1678.4" y="1531.6" font-size="62.5" fill="#4c4c4e" text-anchor="middle">25</text>
<text x="1963.3" y="1531.6" font-size="62.5" fill="#4c4c4e" text-anchor="middle">30</text>
<text x="2248.2" y="1531.6" font-size="62.5" fill="#4c4c4e" text-anchor="middle">35</text>
<text x="2533.1" y="1531.6" font-size="62.5" fill="#4c4c4e" text-anchor="middle">40</text>
<text transform="translate(1392.1 1622.9) scale(1 1.045)" font-size="69" fill="#4c4c4e" text-anchor="middle">SNR [dB]</text>
<text transform="translate(83.1 777.9) rotate(-90) scale(1 1.045)" font-size="69.4" fill="#4c4c4e" text-anchor="middle">BER</text>
<text x="128.6" y="149.0" font-size="62.5" fill="#4c4c4e">10</text>
<text x="199.9" y="118.0" font-size="50" fill="#4c4c4e">0</text>
<text x="114.7" y="591.6" font-size="62.5" fill="#4c4c4e">10</text>
<text x="184.3" y="560.6" font-size="50" fill="#4c4c4e">-2</text>
<text x="114.7" y="1034.2" font-size="62.5" fill="#4c4c4e">10</text>
<text x="184.3" y="1003.2" font-size="50" fill="#4c4c4e">-4</text>
<text x="114.7" y="1476.8" font-size="62.5" fill="#4c4c4e">10</text>
<text x="184.3" y="1445.8" font-size="50" fill="#4c4c4e">-6</text>
</svg></body></html>
